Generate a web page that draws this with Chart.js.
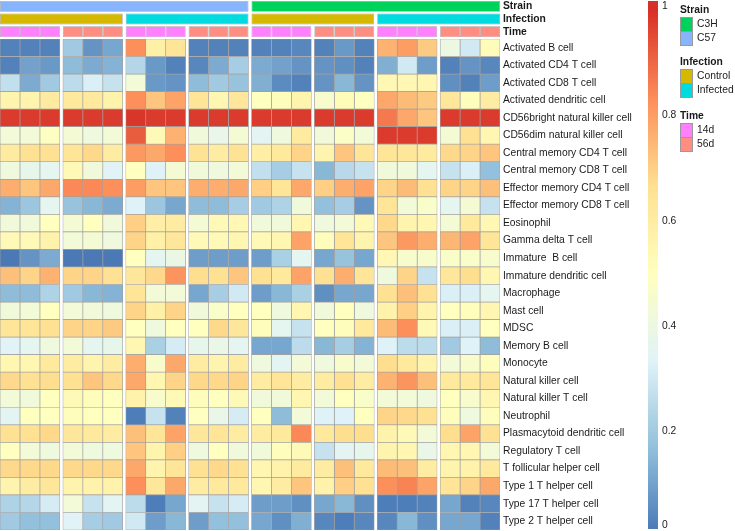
<!DOCTYPE html>
<html>
<head>
<meta charset="utf-8">
<script src="https://cdn.jsdelivr.net/npm/chart.js@4"></script>
<style>
  body { margin: 0; background: #fff; font-family: "Liberation Sans", Arial, sans-serif; color: #1a1a1a; }
  #wrap { position: relative; width: 735px; height: 531px; overflow: hidden; }
  canvas { position: absolute; }
  .lg-title { position: absolute; left: 680px; font-weight: bold; font-size: 10.3px; line-height: 12px; }
  .lg-box { position: absolute; left: 680px; width: 11px; height: 13px; border: 1px solid #9a9a9a; box-sizing: content-box; }
  .lg-text { position: absolute; left: 697px; font-size: 10.3px; line-height: 12px; }
</style>
</head>
<body>
<div id="wrap">
  <canvas id="annoChart" width="648" height="38" style="left:0px;top:0px"></canvas>
  <canvas id="heatChart" width="648" height="491" style="left:0px;top:39px"></canvas>
  <canvas id="scaleChart" width="40" height="531" style="left:648px;top:0px"></canvas>
  <div id="legend"></div>
</div>
<script>
const cellTypes = [
    'Activated B cell', 'Activated CD4 T cell', 'Activated CD8 T cell', 'Activated dendritic cell',
    'CD56bright natural killer cell', 'CD56dim natural killer cell', 'Central memory CD4 T cell',
    'Central memory CD8 T cell', 'Effector memory CD4 T cell', 'Effector memory CD8 T cell',
    'Eosinophil', 'Gamma delta T cell', 'Immature  B cell', 'Immature dendritic cell', 'Macrophage',
    'Mast cell', 'MDSC', 'Memory B cell', 'Monocyte', 'Natural killer cell', 'Natural killer T cell',
    'Neutrophil', 'Plasmacytoid dendritic cell', 'Regulatory T cell', 'T follicular helper cell',
    'Type 1 T helper cell', 'Type 17 T helper cell', 'Type 2 T helper cell'
];

// one entry per sample column
const strain = ['C57','C57','C57','C57','C57','C57','C57','C57','C57','C57','C57','C57',
                'C3H','C3H','C3H','C3H','C3H','C3H','C3H','C3H','C3H','C3H','C3H','C3H'];
const infection = ['Control','Control','Control','Control','Control','Control',
                   'Infected','Infected','Infected','Infected','Infected','Infected',
                   'Control','Control','Control','Control','Control','Control',
                   'Infected','Infected','Infected','Infected','Infected','Infected'];
const timepoint = ['14d','14d','14d','56d','56d','56d','14d','14d','14d','56d','56d','56d',
                   '14d','14d','14d','56d','56d','56d','14d','14d','14d','56d','56d','56d'];

// scaled scores, one row per cell type, 24 samples each
const scores = [
    [0.03,0.03,0.03, 0.20,0.07,0.11, 0.83,0.58,0.64, 0.03,0.03,0.03, 0.03,0.03,0.04, 0.03,0.08,0.03, 0.76,0.80,0.71, 0.40,0.30,0.52],
    [0.03,0.10,0.08, 0.16,0.12,0.14, 0.24,0.08,0.03, 0.04,0.12,0.21, 0.12,0.10,0.07, 0.07,0.06,0.03, 0.13,0.30,0.09, 0.03,0.07,0.04],
    [0.27,0.12,0.20, 0.26,0.32,0.28, 0.43,0.08,0.07, 0.16,0.20,0.18, 0.13,0.05,0.03, 0.07,0.15,0.07, 0.54,0.54,0.55, 0.06,0.03,0.09],
    [0.56,0.56,0.61, 0.62,0.62,0.57, 0.83,0.72,0.79, 0.64,0.55,0.63, 0.50,0.51,0.56, 0.46,0.52,0.50, 0.78,0.74,0.71, 0.63,0.51,0.60],
    [0.98,0.98,0.98, 0.98,0.98,0.98, 0.99,0.98,0.98, 0.98,0.98,0.98, 0.98,0.98,0.98, 0.98,0.98,0.98, 0.87,0.78,0.72, 0.98,0.98,0.98],
    [0.43,0.43,0.49, 0.44,0.41,0.43, 0.92,0.53,0.76, 0.42,0.38,0.44, 0.35,0.41,0.61, 0.42,0.48,0.43, 0.98,0.98,0.98, 0.44,0.66,0.55],
    [0.61,0.66,0.66, 0.64,0.68,0.60, 0.81,0.78,0.83, 0.65,0.60,0.65, 0.59,0.62,0.69, 0.56,0.72,0.64, 0.64,0.63,0.61, 0.68,0.69,0.72],
    [0.41,0.37,0.36, 0.53,0.42,0.34, 0.50,0.33,0.44, 0.42,0.41,0.43, 0.27,0.21,0.28, 0.15,0.25,0.28, 0.42,0.42,0.36, 0.28,0.32,0.17],
    [0.77,0.72,0.78, 0.84,0.84,0.83, 0.80,0.72,0.72, 0.77,0.77,0.78, 0.70,0.64,0.78, 0.70,0.77,0.79, 0.69,0.74,0.66, 0.69,0.69,0.73],
    [0.14,0.19,0.36, 0.18,0.15,0.12, 0.33,0.19,0.11, 0.16,0.16,0.21, 0.20,0.23,0.42, 0.17,0.21,0.07, 0.64,0.43,0.47, 0.36,0.44,0.28],
    [0.42,0.42,0.50, 0.44,0.50,0.42, 0.70,0.59,0.60, 0.44,0.53,0.54, 0.42,0.42,0.55, 0.41,0.43,0.53, 0.68,0.56,0.55, 0.44,0.62,0.54],
    [0.53,0.53,0.57, 0.43,0.44,0.41, 0.69,0.58,0.63, 0.53,0.53,0.55, 0.53,0.55,0.79, 0.51,0.64,0.56, 0.72,0.81,0.77, 0.75,0.79,0.64],
    [0.01,0.07,0.12, 0.01,0.01,0.01, 0.50,0.36,0.39, 0.09,0.09,0.09, 0.09,0.22,0.36, 0.11,0.18,0.11, 0.54,0.46,0.46, 0.47,0.47,0.46],
    [0.73,0.69,0.76, 0.69,0.69,0.66, 0.63,0.68,0.82, 0.67,0.66,0.72, 0.66,0.62,0.79, 0.66,0.77,0.64, 0.41,0.69,0.28, 0.63,0.67,0.55],
    [0.16,0.16,0.23, 0.20,0.15,0.14, 0.64,0.43,0.43, 0.11,0.21,0.30, 0.09,0.15,0.22, 0.06,0.11,0.11, 0.66,0.73,0.66, 0.32,0.32,0.36],
    [0.42,0.43,0.50, 0.43,0.42,0.41, 0.69,0.58,0.69, 0.42,0.47,0.50, 0.50,0.41,0.55, 0.42,0.50,0.41, 0.57,0.70,0.56, 0.50,0.51,0.55],
    [0.64,0.64,0.66, 0.69,0.69,0.71, 0.50,0.41,0.50, 0.50,0.68,0.63, 0.51,0.36,0.28, 0.50,0.51,0.62, 0.74,0.83,0.53, 0.32,0.32,0.50],
    [0.34,0.36,0.41, 0.43,0.36,0.37, 0.55,0.22,0.31, 0.37,0.38,0.36, 0.11,0.11,0.26, 0.15,0.21,0.14, 0.33,0.26,0.26, 0.20,0.33,0.16],
    [0.55,0.55,0.62, 0.60,0.56,0.60, 0.77,0.46,0.78, 0.60,0.56,0.60, 0.41,0.35,0.43, 0.41,0.46,0.43, 0.67,0.62,0.56, 0.43,0.46,0.51],
    [0.68,0.66,0.67, 0.66,0.72,0.68, 0.78,0.55,0.69, 0.68,0.68,0.69, 0.60,0.64,0.60, 0.60,0.66,0.60, 0.76,0.82,0.73, 0.62,0.62,0.64],
    [0.43,0.42,0.50, 0.53,0.51,0.50, 0.57,0.46,0.53, 0.51,0.50,0.53, 0.42,0.42,0.55, 0.43,0.50,0.47, 0.43,0.43,0.41, 0.50,0.46,0.55],
    [0.35,0.50,0.50, 0.51,0.50,0.50, 0.02,0.28,0.03, 0.50,0.38,0.31, 0.50,0.16,0.43, 0.33,0.33,0.50, 0.69,0.68,0.66, 0.51,0.41,0.51],
    [0.66,0.66,0.68, 0.63,0.62,0.60, 0.73,0.64,0.79, 0.63,0.64,0.60, 0.60,0.62,0.84, 0.62,0.67,0.67, 0.57,0.53,0.43, 0.67,0.79,0.66],
    [0.50,0.43,0.41, 0.43,0.41,0.41, 0.72,0.56,0.70, 0.41,0.50,0.42, 0.42,0.51,0.53, 0.28,0.35,0.37, 0.56,0.55,0.38, 0.55,0.55,0.43],
    [0.68,0.68,0.68, 0.68,0.68,0.68, 0.78,0.56,0.64, 0.66,0.68,0.66, 0.55,0.57,0.61, 0.60,0.73,0.62, 0.74,0.73,0.60, 0.56,0.57,0.62],
    [0.56,0.60,0.63, 0.56,0.57,0.57, 0.83,0.63,0.78, 0.60,0.62,0.62, 0.55,0.60,0.72, 0.57,0.70,0.66, 0.83,0.85,0.79, 0.64,0.69,0.78],
    [0.23,0.24,0.31, 0.43,0.28,0.35, 0.26,0.02,0.11, 0.35,0.28,0.31, 0.09,0.09,0.06, 0.11,0.15,0.06, 0.02,0.02,0.03, 0.11,0.03,0.04],
    [0.20,0.17,0.17, 0.34,0.21,0.20, 0.30,0.09,0.15, 0.09,0.17,0.17, 0.11,0.06,0.13, 0.04,0.02,0.04, 0.04,0.15,0.06, 0.11,0.11,0.03]
];

// colour key: the bar covers the observed score range; the end labels read 0 and 1
// and sit just inside the bar ends
const scaleRange = [0.015, 1.017];
const scaleTicks = [0.022, 0.2, 0.4, 0.6, 0.8, 1.007];

const annoColors = {
    C3H: '#00d35c', C57: '#88b4fc',
    Control: '#d5b800', Infected: '#00dbe0',
    '14d': '#ff80ff', '56d': '#ff8d82'
};
const palette = ['#4575B4', '#91BFDB', '#E0F3F8', '#FFFFBF', '#FEE090', '#FC8D59', '#D73027'];
const borderGrey = '#a0a0a0';
const fontFamily = '"Liberation Sans", Arial, sans-serif';
const textColor = '#1a1a1a';

function hexToRgb(h) {
    const n = parseInt(h.slice(1), 16);
    return [(n >> 16) & 255, (n >> 8) & 255, n & 255];
}
function colorFor(v) {
    const t = Math.max(0, Math.min(1, v)) * (palette.length - 1);
    const i = Math.min(palette.length - 2, Math.floor(t));
    const f = t - i;
    const a = hexToRgb(palette[i]), b = hexToRgb(palette[i + 1]);
    const c = a.map((x, k) => Math.round(x + (b[k] - x) * f));
    return 'rgb(' + c.join(',') + ')';
}

// columns come in blocks of 3 with a thin gap between blocks
const gapUnits = 0.15;
const nCols = strain.length;
const xMax = nCols + (nCols / 3 - 1) * gapUnits;
function colStart(c) { return c + Math.floor(c / 3) * gapUnits; }

// fixed label column width, and no extra vertical padding for edge labels
function fitAxis(w, padTop, padBottom) {
    return function (scale) {
        scale.width = w;
        scale.paddingTop = padTop;
        scale.paddingBottom = padBottom;
    };
}

// heatmap: one dataset per sample column, floating bars across x
const heatDatasets = strain.map(function (_, c) {
    return {
        data: cellTypes.map(function () { return [colStart(c), colStart(c) + 1]; }),
        backgroundColor: scores.map(function (row) { return colorFor(row[c]); }),
        borderColor: borderGrey,
        borderWidth: 0.7,
        borderSkipped: false,
        grouped: false,
        barPercentage: 1,
        categoryPercentage: 1
    };
});

new Chart(document.getElementById('heatChart'), {
    type: 'bar',
    data: { labels: cellTypes, datasets: heatDatasets },
    options: {
        indexAxis: 'y',
        responsive: false,
        animation: false,
        layout: { padding: 0 },
        plugins: { legend: { display: false }, tooltip: { enabled: false } },
        scales: {
            x: { type: 'linear', min: 0, max: xMax, display: false },
            y: {
                position: 'right',
                grid: { display: false, drawTicks: false },
                border: { display: false },
                afterFit: fitAxis(148, 0, 0),
                ticks: { autoSkip: false, padding: 3, color: textColor, font: { family: fontFamily, size: 10.3 } }
            }
        }
    }
});

// annotation bars above the heatmap
const annoRows = ['Strain', 'Infection', 'Time'];
const annoDatasets = [];
function addRuns(values, rowIdx, splitEach) {
    let start = 0;
    for (let c = 1; c <= values.length; c++) {
        if (c === values.length || values[c] !== values[start] || splitEach) {
            const data = annoRows.map(function () { return null; });
            data[rowIdx] = [colStart(start), colStart(c - 1) + 1];
            annoDatasets.push({
                data: data,
                backgroundColor: annoColors[values[start]],
                borderColor: borderGrey,
                borderWidth: 0.7,
                borderSkipped: false,
                grouped: false,
                barPercentage: 0.86,
                categoryPercentage: 1
            });
            start = c;
        }
    }
}
addRuns(strain, 0, false);
addRuns(infection, 1, false);
addRuns(timepoint, 2, true);

new Chart(document.getElementById('annoChart'), {
    type: 'bar',
    data: { labels: annoRows, datasets: annoDatasets },
    options: {
        indexAxis: 'y',
        responsive: false,
        animation: false,
        layout: { padding: 0 },
        plugins: { legend: { display: false }, tooltip: { enabled: false } },
        scales: {
            x: { type: 'linear', min: 0, max: xMax, display: false },
            y: {
                position: 'right',
                grid: { display: false, drawTicks: false },
                border: { display: false },
                afterFit: fitAxis(148, 0, 0),
                ticks: { autoSkip: false, padding: 3, color: textColor, font: { family: fontFamily, size: 10.3, weight: 'bold' } }
            }
        }
    }
});

// colour scale bar
new Chart(document.getElementById('scaleChart'), {
    type: 'bar',
    data: {
        labels: ['scale'],
        datasets: [{
            data: [scaleRange],
            barPercentage: 1,
            categoryPercentage: 1,
            backgroundColor: function (ctx) {
                const chart = ctx.chart;
                if (!chart.chartArea) return palette[0];
                const y = chart.scales.y;
                const g = chart.ctx.createLinearGradient(0, y.getPixelForValue(0), 0, y.getPixelForValue(1));
                palette.forEach(function (p, i) { g.addColorStop(i / (palette.length - 1), p); });
                return g;
            }
        }]
    },
    options: {
        responsive: false,
        animation: false,
        layout: { padding: 0 },
        plugins: { legend: { display: false }, tooltip: { enabled: false } },
        scales: {
            x: { display: false },
            y: {
                position: 'right',
                min: scaleRange[0],
                max: scaleRange[1],
                grid: { display: false, drawTicks: false },
                border: { display: false },
                afterFit: fitAxis(30, 1, 2),
                afterBuildTicks: function (scale) {
                    scale.ticks = scaleTicks.map(function (v) { return { value: v }; });
                },
                ticks: {
                    padding: 4, color: textColor, font: { family: fontFamily, size: 10.3 },
                    callback: function (v) { return String(Math.round(v * 10) / 10); }
                }
            }
        }
    }
});

// annotation legend
const legendGroups = [
    { title: 'Strain', top: 4, items: ['C3H', 'C57'] },
    { title: 'Infection', top: 56, items: ['Control', 'Infected'] },
    { title: 'Time', top: 110, items: ['14d', '56d'] }
];
const legendEl = document.getElementById('legend');
legendGroups.forEach(function (g) {
    const t = document.createElement('div');
    t.className = 'lg-title';
    t.style.top = g.top + 'px';
    t.textContent = g.title;
    legendEl.appendChild(t);
    g.items.forEach(function (name, i) {
        const boxTop = g.top + 13 + i * 14;
        const box = document.createElement('div');
        box.className = 'lg-box';
        box.style.top = boxTop + 'px';
        box.style.background = annoColors[name];
        legendEl.appendChild(box);
        const lab = document.createElement('div');
        lab.className = 'lg-text';
        lab.style.top = (boxTop + 1) + 'px';
        lab.textContent = name;
        legendEl.appendChild(lab);
    });
});
</script>
</body>
</html>
